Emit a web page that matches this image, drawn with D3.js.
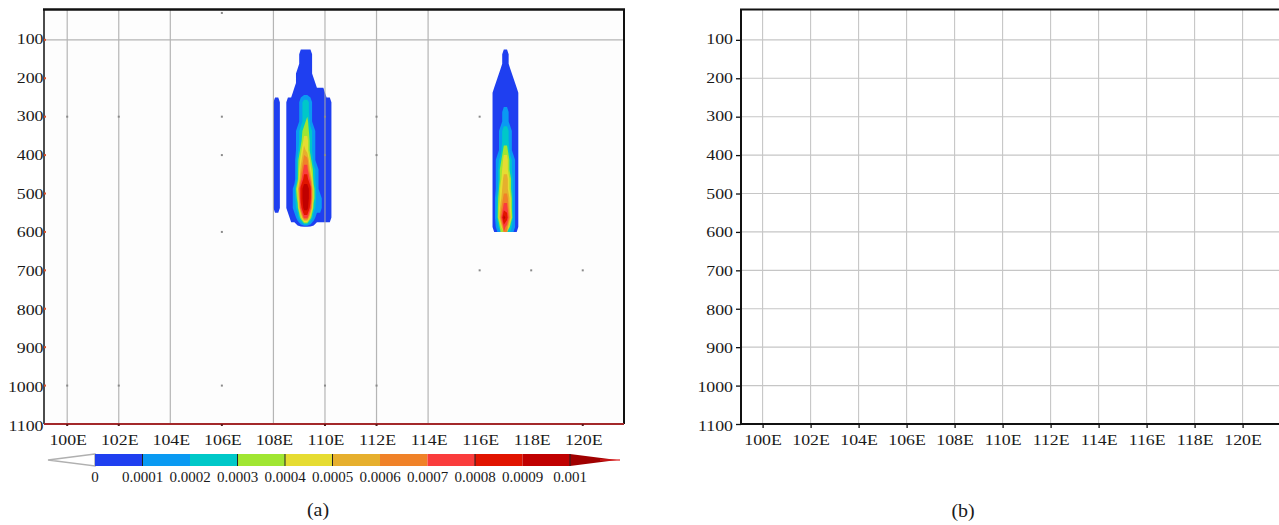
<!DOCTYPE html>
<html>
<head>
<meta charset="utf-8">
<script src="https://cdn.jsdelivr.net/npm/d3@7/dist/d3.min.js"></script>
<style>
  body { margin: 0; background: #fff; }
  svg { display: block; }
  text { font-family: "Liberation Serif", "DejaVu Serif", serif; }
</style>
</head>
<body>
<svg id="chart" width="1279" height="525"></svg>
<script>
// axes
var pressTicks = [100, 200, 300, 400, 500, 600, 700, 800, 900, 1000, 1100];
var lonTicks = [100, 102, 104, 106, 108, 110, 112, 114, 116, 118, 120];
var lonLabels = lonTicks.map(function (d) { return d + "E"; });

// colour bar
var legendLevels = [0, 0.0001, 0.0002, 0.0003, 0.0004, 0.0005, 0.0006, 0.0007, 0.0008, 0.0009, 0.001];
var legendLabels = ["0", "0.0001", "0.0002", "0.0003", "0.0004", "0.0005", "0.0006", "0.0007", "0.0008", "0.0009", "0.001"];
var bandColors = ["#1f3ff0", "#0a9af2", "#00c8c8", "#a0e632", "#e6dc32", "#e6af2d", "#f08228", "#fa3c3c", "#e11400", "#c00000"];
var overColor = "#a00000";

// plume cells: one char per cell = colour band (0..9, X above 0.001), "." = empty
// west plume: 108.0E.. by 0.125 deg, 125 hPa.. by 25 hPa
var westRows = [
  "........0000......",
  "........0000......",
  ".......00000......",
  ".......000000.....",
  "......0000000000..",
  "00..00001221000000",
  "00..00001221000000",
  "00..00001231000000",
  "00..00012332100000",
  "00..00012442100000",
  "00..00013542100000",
  "00..00024663100000",
  "00..00025774210000",
  "00..00026886210000",
  "00..00148998310000",
  "00..00138998311000",
  "00..00127997211000",
  ".....0013773100000",
  ".................."
];
var westGrid = { lon0: 108.0, dlon: 0.125, p0: 125, dp: 25 };

// east plume: 116.5E.. by 0.125 deg
var eastRows = [
  "...00...",
  "...00...",
  "..0000..",
  ".000000.",
  "00000000",
  "00000000",
  "00011000",
  "00011000",
  "00122100",
  "00122100",
  "00133100",
  "01244210",
  "01344210",
  "01355310",
  "01455310",
  "02466410",
  "02577410",
  "02698510",
  "01376210"
];
var eastGrid = { lon0: 116.5, dlon: 0.125, p0: 125, dp: 25 };

// panel (a) only shows part of its grid
var gridLonA = [100, 102, 104, 108, 110, 112, 114];
var dotsA = [[106, 300], [106, 400], [106, 600], [106, 1000], [106, 30], [116, 300], [116, 700], [118, 700], [120, 700],
             [100, 300], [102, 300], [100, 1000], [102, 1000], [110, 1000], [112, 1000], [110, 300], [112, 300], [110, 400], [112, 400]];

var svg = d3.select("#chart");

var yP = d3.scaleLinear().domain([21, 1100]).range([9.5, 424]);
var yLab = d3.scaleLinear().domain([100, 1100]).range([38.6, 425.6]);
var xA = d3.scaleLinear().domain([99.1, 121.6]).range([44, 624]);
var xB = d3.scaleLinear().domain([99.1, 121.6]).range([741, 1281]);
var xLeg = d3.scaleLinear().domain([0, 0.001]).range([95, 570]);

function label(g, x, y, txt, anchor, size, sx) {
  g.append("text")
    .attr("transform", "translate(" + x + "," + y + ") scale(" + sx + ",1)")
    .attr("text-anchor", anchor)
    .attr("font-family", "Liberation Serif, DejaVu Serif, serif")
    .attr("font-size", size)
    .attr("fill", "#1a1a1a")
    .text(txt);
}

function cellValue(ch) {
  if (ch === ".") return 0;
  if (ch === "X") return 0.00105;
  return (+ch + 0.5) * 0.0001;
}

function drawPlume(g, rows, cfg, x, y, id) {
  var ny = rows.length, nx = rows[0].length;
  var vals = [];
  rows.forEach(function (r) {
    r.split("").forEach(function (ch) { vals.push(cellValue(ch)); });
  });
  var proj = d3.geoTransform({
    point: function (px, py) { this.stream.point(x(cfg.lon0 + px * cfg.dlon), y(cfg.p0 + py * cfg.dp)); }
  });
  var path = d3.geoPath(proj);

  // outline of the shaded area: half way between an empty cell and a "0" cell
  var edge = d3.contours().size([nx, ny]).thresholds([0.000025])(vals)[0];
  var d = path(edge);
  svg.append("defs").append("clipPath").attr("id", id).append("path").attr("d", d);
  g.append("path").attr("d", d).attr("fill", bandColors[0]);

  var cs = d3.contours().size([nx, ny]).thresholds(legendLevels.slice(1))(vals);
  g.append("g").attr("clip-path", "url(#" + id + ")")
    .selectAll("path").data(cs).join("path")
    .attr("d", path)
    .attr("fill", function (c, k) { return k + 1 < bandColors.length ? bandColors[k + 1] : overColor; });
}

// ---------- panel (a) ----------
var ga = svg.append("g");
ga.append("rect").attr("x", 44).attr("y", 9.5).attr("width", 580).attr("height", 414.5).attr("fill", "#fdfdfd");

drawPlume(ga, westRows, westGrid, xA, yP, "clipW");
drawPlume(ga, eastRows, eastGrid, xA, yP, "clipE");

ga.selectAll("line.vg").data(gridLonA).join("line")
  .attr("x1", function (d) { return xA(d); }).attr("x2", function (d) { return xA(d); })
  .attr("y1", 10).attr("y2", 424)
  .attr("stroke", "#a8a8a8").attr("stroke-width", 1.2).attr("stroke-opacity", 0.85);
ga.append("line").attr("x1", 44).attr("x2", 624).attr("y1", yP(100)).attr("y2", yP(100))
  .attr("stroke", "#b4b4b4").attr("stroke-width", 1.4);
ga.selectAll("rect.dot").data(dotsA).join("rect")
  .attr("x", function (d) { return xA(d[0]) - 1; }).attr("y", function (d) { return yP(d[1]) - 1; })
  .attr("width", 2).attr("height", 2).attr("fill", "#8a8a8a");

// frame of (a)
ga.append("line").attr("x1", 43).attr("x2", 625).attr("y1", 9.5).attr("y2", 9.5).attr("stroke", "#111").attr("stroke-width", 2.5);
ga.append("line").attr("x1", 44).attr("x2", 44).attr("y1", 9).attr("y2", 424).attr("stroke", "#111").attr("stroke-width", 1.5);
ga.append("line").attr("x1", 624).attr("x2", 624).attr("y1", 9).attr("y2", 424).attr("stroke", "#111").attr("stroke-width", 2);
ga.append("line").attr("x1", 44).attr("x2", 624).attr("y1", 424).attr("y2", 424).attr("stroke", "#a3282a").attr("stroke-width", 2.2);
ga.selectAll("rect.tk").data(pressTicks.slice(0, 10)).join("rect")
  .attr("x", 44).attr("y", function (d) { return yP(d) - 1; }).attr("width", 2).attr("height", 2)
  .attr("fill", "#d8502a");
ga.selectAll("rect.bt").data([100, 102, 106, 110, 112, 120]).join("rect")
  .attr("x", function (d) { return xA(d) - 1; }).attr("y", 424).attr("width", 2).attr("height", 2)
  .attr("fill", "#5a1a1a");

pressTicks.forEach(function (p) { label(ga, 43.5, yLab(p) + 5.2, p, "end", 15.5, 1.15); });
lonTicks.forEach(function (l, i) { label(ga, xA(l) + 1, 445, lonLabels[i], "middle", 15.5, 1.15); });

// colour bar
var gl = svg.append("g");
gl.append("path").attr("d", "M95,454L48,460L95,466Z").attr("fill", "#fff").attr("stroke", "#b0b0b0").attr("stroke-width", 1.5);
gl.selectAll("rect.box").data(bandColors).join("rect")
  .attr("x", function (c, i) { return xLeg(legendLevels[i]); })
  .attr("width", function (c, i) { return xLeg(legendLevels[i + 1]) - xLeg(legendLevels[i]); })
  .attr("y", 454).attr("height", 12).attr("fill", function (c) { return c; });
gl.append("path").attr("d", "M570,454L617,460L570,466Z").attr("fill", overColor);
gl.append("line").attr("x1", 600).attr("x2", 620).attr("y1", 460).attr("y2", 460).attr("stroke", "#e02020").attr("stroke-width", 1.2);
gl.selectAll("line.sep").data([0.0001, 0.0003, 0.0004, 0.0005, 0.0008, 0.001]).join("line")
  .attr("x1", function (d) { return xLeg(d); }).attr("x2", function (d) { return xLeg(d); })
  .attr("y1", 454).attr("y2", 466).attr("stroke", "#222").attr("stroke-width", 1);
legendLabels.forEach(function (t, i) { label(gl, xLeg(legendLevels[i]), 482, t, "middle", 15, 1.0); });

label(svg, 318, 516, "(a)", "middle", 19, 1.05);

// ---------- panel (b) ----------
var gb = svg.append("g");
gb.selectAll("line.vg").data(lonTicks).join("line")
  .attr("x1", function (d) { return xB(d); }).attr("x2", function (d) { return xB(d); })
  .attr("y1", 10).attr("y2", 424).attr("stroke", "#c6c6c6").attr("stroke-width", 1.1);
gb.selectAll("line.hg").data(pressTicks.slice(0, 10)).join("line")
  .attr("x1", 741).attr("x2", 1279).attr("y1", function (d) { return yP(d); }).attr("y2", function (d) { return yP(d); })
  .attr("stroke", "#c6c6c6").attr("stroke-width", 1.1);

var axL = gb.append("g").attr("transform", "translate(741,0)")
  .call(d3.axisLeft(yP).tickValues(pressTicks).tickSize(5).tickFormat(""));
var axB = gb.append("g").attr("transform", "translate(0,424)")
  .call(d3.axisBottom(xB).tickValues(lonTicks).tickSize(4).tickFormat(""));
[axL, axB].forEach(function (a) {
  a.select(".domain").remove();
  a.selectAll("line").attr("stroke", "#111").attr("stroke-width", 1.3);
});
gb.append("line").attr("x1", 741).attr("x2", 741).attr("y1", 9).attr("y2", 425).attr("stroke", "#111").attr("stroke-width", 2);
gb.append("line").attr("x1", 740).attr("x2", 1279).attr("y1", 9.5).attr("y2", 9.5).attr("stroke", "#111").attr("stroke-width", 2);
gb.append("line").attr("x1", 740).attr("x2", 1279).attr("y1", 424).attr("y2", 424).attr("stroke", "#111").attr("stroke-width", 2);

pressTicks.forEach(function (p) { label(gb, 733, yLab(p) + 5.2, p, "end", 15.5, 1.15); });
lonTicks.forEach(function (l, i) { label(gb, xB(l) + 0.5, 445, lonLabels[i], "middle", 15.5, 1.15); });

label(svg, 963, 517, "(b)", "middle", 19, 1.05);
</script>
</body>
</html>
